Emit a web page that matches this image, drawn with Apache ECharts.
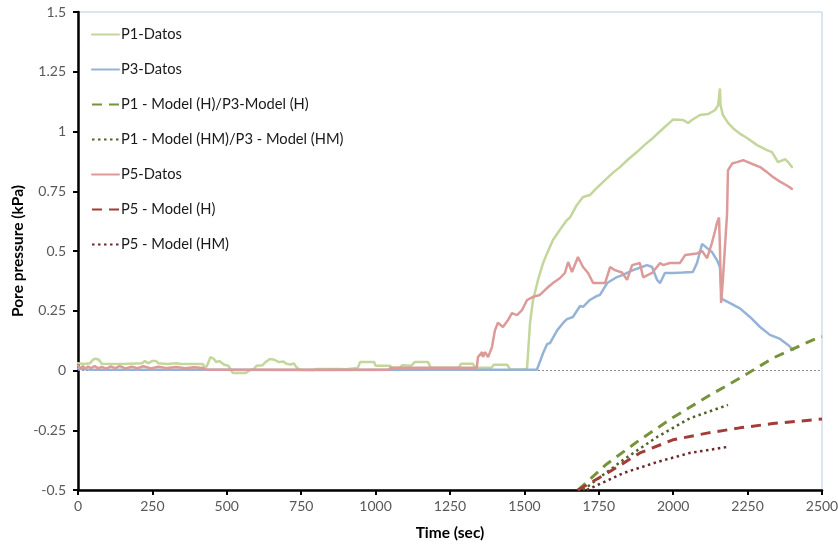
<!DOCTYPE html>
<html>
<head>
<meta charset="utf-8">
<script src="https://cdn.jsdelivr.net/npm/echarts@6/dist/echarts.min.js"></script>
<style>
  html, body { margin: 0; padding: 0; background: #fff; }
  #chart { width: 838px; height: 549px; }
</style>
</head>
<body>
<div id="chart"></div>
<script>
// Pore pressure records [time (s), pressure (kPa)]
const p1Datos = [
  [0,0.03],[20,0.027],[40,0.03],[50,0.045],[60,0.05],[70,0.045],[80,0.028],[150,0.027],[215,0.03],[225,0.04],
  [235,0.03],[250,0.04],[262,0.04],[270,0.03],[300,0.027],[330,0.03],[345,0.027],[420,0.027],[428,0.008],[437,0.03],
  [445,0.056],[455,0.05],[465,0.035],[475,0.04],[490,0.025],[505,0.02],[515,0],[520,-0.01],[565,-0.01],[575,0],
  [590,0.005],[600,0.02],[620,0.022],[630,0.035],[645,0.048],[660,0.045],[675,0.035],[690,0.038],[700,0.028],[715,0.025],
  [725,0.03],[735,0.012],[745,0.003],[790,0.002],[800,0.006],[880,0.006],[900,0.005],[940,0.01],[948,0.036],[995,0.036],
  [1000,0.02],[1048,0.02],[1055,0.012],[1080,0.012],[1090,0.022],[1120,0.02],[1132,0.036],[1176,0.036],[1185,0.012],[1280,0.012],
  [1287,0.028],[1327,0.028],[1335,0.012],[1390,0.012],[1397,0.024],[1442,0.024],[1452,0.005],[1500,0.004],[1509,0.01],[1519,0.2],
  [1529,0.295],[1546,0.38],[1563,0.45],[1576,0.49],[1596,0.546],[1620,0.59],[1643,0.63],[1653,0.64],[1675,0.69],[1697,0.726],
  [1720,0.734],[1740,0.76],[1778,0.805],[1800,0.83],[1821,0.851],[1850,0.885],[1878,0.914],[1905,0.945],[1932,0.973],[1955,1.0],
  [1979,1.027],[1999,1.05],[2033,1.048],[2050,1.036],[2063,1.048],[2090,1.069],[2117,1.073],[2141,1.09],[2151,1.11],[2157,1.18],
  [2159,1.11],[2167,1.069],[2185,1.035],[2201,1.014],[2225,0.99],[2248,0.973],[2282,0.943],[2315,0.922],[2332,0.914],[2352,0.872],
  [2376,0.884],[2386,0.872],[2399,0.851]
];

const p3Datos = [
  [0,0.008],[30,0.004],[60,0.003],[400,0.003],[800,0.002],[1200,0.003],[1542,0.003],[1563,0.073],[1576,0.11],[1586,0.115],
  [1610,0.168],[1630,0.199],[1643,0.215],[1663,0.224],[1687,0.27],[1697,0.266],[1720,0.295],[1744,0.312],[1754,0.316],[1778,0.366],
  [1811,0.391],[1831,0.4],[1865,0.42],[1895,0.433],[1912,0.441],[1929,0.433],[1946,0.379],[1956,0.366],[1972,0.408],[1999,0.408],
  [2033,0.41],[2066,0.412],[2080,0.45],[2097,0.53],[2114,0.512],[2130,0.496],[2147,0.462],[2157,0.433],[2163,0.3],[2191,0.282],
  [2224,0.26],[2258,0.224],[2292,0.182],[2325,0.149],[2359,0.132],[2386,0.107],[2403,0.086]
];

const p5Datos = [
  [0,0.02],[8,0.01],[16,0.018],[24,0.008],[34,0.016],[44,0.01],[56,0.019],[68,0.009],[80,0.015],[95,0.008],
  [110,0.017],[125,0.01],[140,0.018],[160,0.009],[180,0.016],[200,0.01],[220,0.018],[245,0.009],[270,0.016],[300,0.01],
  [330,0.015],[360,0.009],[390,0.014],[420,0.01],[430,0.003],[1045,0.003],[1050,0.012],[1200,0.012],[1340,0.012],[1344,0.056],
  [1358,0.077],[1361,0.056],[1368,0.077],[1378,0.056],[1391,0.098],[1401,0.168],[1411,0.2],[1428,0.182],[1445,0.211],[1458,0.24],
  [1475,0.232],[1492,0.253],[1509,0.295],[1529,0.308],[1552,0.316],[1576,0.345],[1596,0.366],[1620,0.387],[1636,0.408],[1647,0.454],
  [1660,0.412],[1680,0.475],[1697,0.433],[1714,0.408],[1731,0.366],[1754,0.366],[1771,0.366],[1788,0.433],[1804,0.42],[1828,0.41],
  [1845,0.379],[1862,0.441],[1888,0.45],[1899,0.39],[1929,0.408],[1956,0.45],[1966,0.441],[1989,0.45],[2023,0.45],[2040,0.483],
  [2080,0.49],[2097,0.5],[2114,0.47],[2130,0.533],[2141,0.586],[2147,0.617],[2154,0.64],[2157,0.517],[2161,0.283],[2167,0.38],
  [2181,0.657],[2184,0.837],[2198,0.866],[2214,0.872],[2235,0.88],[2251,0.872],[2268,0.863],[2292,0.851],[2315,0.83],[2335,0.81],
  [2359,0.79],[2382,0.774],[2399,0.76]
];

// Model predictions
const p1ModelH = [[1680,-0.5],[1778,-0.39],[1888,-0.29],[1999,-0.197],[2114,-0.11],[2224,-0.032],[2335,0.052],[2470,0.128],[2500,0.142]];
const p1ModelHM = [[1697,-0.5],[1831,-0.375],[1946,-0.278],[2056,-0.2],[2184,-0.144]];
const p5ModelH = [[1680,-0.5],[1778,-0.43],[1888,-0.345],[1999,-0.29],[2114,-0.262],[2224,-0.24],[2335,-0.222],[2500,-0.203]];
const p5ModelHM = [[1710,-0.5],[1831,-0.43],[1946,-0.383],[2056,-0.345],[2181,-0.32]];

const zeroLine = [[0,0],[2500,0]];

const seriesNames = [
  'P1-Datos',
  'P3-Datos',
  'P1 - Model (H)/P3-Model (H)',
  'P1 - Model (HM)/P3 - Model (HM)',
  'P5-Datos',
  'P5 - Model (H)',
  'P5 - Model (HM)'
];

const FONT = 'Lato';

function lineSeries(name, data, color, width, type, cap) {
  return {
    name: name,
    type: 'line',
    data: data,
    showSymbol: false,
    symbol: 'none',
    clip: true,
    lineStyle: { color: color, width: width, type: type, cap: cap || 'butt' },
    itemStyle: { color: color },
    emphasis: { disabled: true }
  };
}

const chart = echarts.init(document.getElementById('chart'), null, { renderer: 'canvas' });

chart.setOption({
  animation: false,
  backgroundColor: '#ffffff',
  grid: {
    left: 78, right: 16, top: 12, bottom: 59,
    containLabel: false,
    outerBoundsMode: 'none',
    show: true, borderColor: '#b9cde5', borderWidth: 1
  },
  legend: {
    data: seriesNames,
    orient: 'vertical',
    left: 86, top: 22,
    itemWidth: 27, itemHeight: 14, itemGap: 20,
    itemStyle: { opacity: 0 },
    textStyle: { fontFamily: FONT, fontSize: 14.7, color: '#1a1a1a', padding: [0, 0, 0, -3] },
    selectedMode: false
  },
  xAxis: {
    type: 'value',
    min: 0, max: 2500, interval: 250,
    name: 'Time (sec)',
    nameLocation: 'middle',
    nameGap: 35,
    nameMoveOverlap: false,
    nameTextStyle: { fontFamily: FONT, fontSize: 15.5, fontWeight: 'bold', color: '#000' },
    axisLine: { show: true, onZero: false, lineStyle: { color: '#000', width: 2.5 } },
    axisTick: { show: true, inside: false, length: 5, lineStyle: { color: '#000', width: 2 } },
    axisLabel: { fontFamily: FONT, fontSize: 14, color: '#595959', margin: 9, formatter: v => String(v) },
    splitLine: { show: false }
  },
  yAxis: {
    type: 'value',
    min: -0.5, max: 1.5, interval: 0.25,
    name: 'Pore pressure (kPa)',
    nameLocation: 'middle',
    nameGap: 52,
    nameMoveOverlap: false,
    nameTextStyle: { fontFamily: FONT, fontSize: 15.5, fontWeight: 'bold', color: '#000' },
    axisLine: { show: true, onZero: false, lineStyle: { color: '#000', width: 2.5 } },
    axisTick: { show: true, inside: false, length: 5, lineStyle: { color: '#000', width: 2 } },
    axisLabel: { fontFamily: FONT, fontSize: 14, color: '#595959', margin: 12, formatter: v => String(v) },
    splitLine: { show: false }
  },
  series: [
    Object.assign(lineSeries('zero', zeroLine, '#8c8c8c', 1, [2, 2]), { silent: true, z: 1 }),
    lineSeries(seriesNames[0], p1Datos, '#c3d69b', 2.5, 'solid', 'round'),
    lineSeries(seriesNames[1], p3Datos, '#95b3d7', 2.5, 'solid', 'round'),
    lineSeries(seriesNames[2], p1ModelH, '#77933c', 3, [10, 7]),
    lineSeries(seriesNames[3], p1ModelHM, '#4f6228', 2.5, [2.5, 3.5]),
    lineSeries(seriesNames[4], p5Datos, '#dc9a98', 2.5, 'solid', 'round'),
    lineSeries(seriesNames[5], p5ModelH, '#a23c38', 3, [10, 7]),
    lineSeries(seriesNames[6], p5ModelHM, '#6e2a28', 2.5, [2.5, 3.5])
  ]
});
</script>
</body>
</html>
